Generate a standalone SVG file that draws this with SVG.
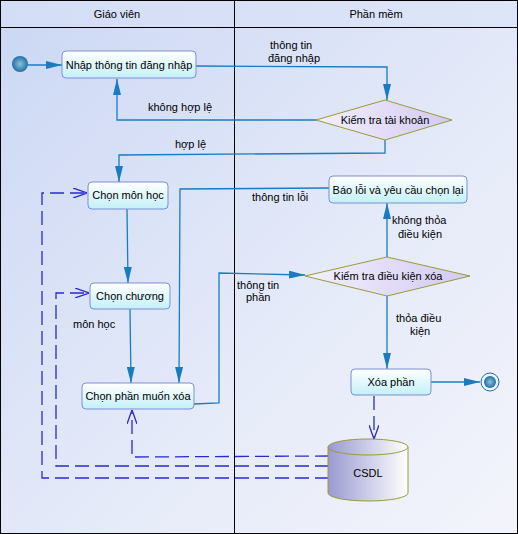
<svg xmlns="http://www.w3.org/2000/svg" width="518" height="534" viewBox="0 0 518 534">
<defs>
<linearGradient id="bg" x1="0" y1="0" x2="1" y2="1">
<stop offset="0" stop-color="#cbd7f4"/><stop offset="0.6" stop-color="#e6ebf9"/><stop offset="1" stop-color="#f3f4fb"/>
</linearGradient>
<linearGradient id="hdr" x1="0" y1="0" x2="1" y2="0">
<stop offset="0" stop-color="#d3ddf5"/><stop offset="1" stop-color="#dde5f8"/>
</linearGradient>
<linearGradient id="box" x1="0" y1="0" x2="0" y2="1">
<stop offset="0" stop-color="#ffffff"/><stop offset="1" stop-color="#c4f0f8"/>
</linearGradient>
<linearGradient id="dia" x1="0" y1="0" x2="1" y2="0">
<stop offset="0" stop-color="#f3f0fd"/><stop offset="1" stop-color="#d2caf2"/>
</linearGradient>
<linearGradient id="cyl" x1="0" y1="0" x2="1" y2="0">
<stop offset="0" stop-color="#9a9ad2"/><stop offset="1" stop-color="#ffffff"/>
</linearGradient>
<radialGradient id="dot" cx="0.5" cy="0.5" r="0.5">
<stop offset="0" stop-color="#8fc3d9"/><stop offset="1" stop-color="#1f6fa6"/>
</radialGradient>
<marker id="a" viewBox="0 0 16 8" refX="16" refY="4" markerWidth="16" markerHeight="8" markerUnits="userSpaceOnUse" orient="auto">
<path d="M0,0 L16,4 L0,8 Z" fill="#1a7cc0"/>
</marker>
<marker id="o" viewBox="0 0 14 10" refX="14" refY="5" markerWidth="14" markerHeight="10" markerUnits="userSpaceOnUse" orient="auto">
<path d="M0,0 L14,5 L0,10" fill="none" stroke="#2a2ad0" stroke-width="1.3"/>
</marker>
</defs>
<style>
text{font-family:"Liberation Sans",Arial,sans-serif;font-size:11px;fill:#000;}
.c{text-anchor:middle;}
.b{fill:url(#box);stroke:#7c8fd6;stroke-width:1;}
.d{fill:url(#dia);stroke:#9a9a3c;stroke-width:1;}
.f{fill:none;stroke:#1a7cc0;stroke-width:1.3;}
.g{fill:none;stroke:#2a2ad0;stroke-width:1.3;stroke-dasharray:14,6;}
</style>
<rect x="0.5" y="0.5" width="517" height="533" fill="url(#bg)" stroke="#000"/>
<rect x="1" y="1" width="516" height="26" fill="url(#hdr)"/>
<line x1="0" y1="27.5" x2="518" y2="27.5" stroke="#000"/>
<line x1="234.5" y1="0" x2="234.5" y2="534" stroke="#000"/>
<text class="c" x="117" y="18">Giáo viên</text>
<text class="c" x="376" y="18">Phần mềm</text>

<g id="connectors">
<line class="f" x1="28" y1="65" x2="62" y2="65" marker-end="url(#a)"/>
<polyline class="f" points="196,66 387,67 387,100" marker-end="url(#a)"/>
<polyline class="f" points="316,120 117,120 117,79" marker-end="url(#a)"/>
<polyline class="f" points="385,140 385,153 119,155 119,182" marker-end="url(#a)"/>
<line class="f" x1="127" y1="209" x2="128" y2="283" marker-end="url(#a)"/>
<line class="f" x1="130" y1="309" x2="131" y2="383" marker-end="url(#a)"/>
<polyline class="f" points="329,188 180,189 179,383" marker-end="url(#a)"/>
<polyline class="f" points="194,404 219,403 219,273 305,275" marker-end="url(#a)"/>
<line class="f" x1="387" y1="257" x2="387" y2="203" marker-end="url(#a)"/>
<line class="f" x1="387" y1="296" x2="387" y2="369" marker-end="url(#a)"/>
<line class="f" x1="431" y1="382" x2="480" y2="382" marker-end="url(#a)"/>
<line class="g" x1="374" y1="396" x2="374" y2="439" marker-end="url(#o)"/>
<polyline class="g" points="329,456 132,457 132,410" marker-end="url(#o)"/>
<polyline class="g" points="329,466 56,466 56,293 89,293" marker-end="url(#o)"/>
<polyline class="g" points="329,478 42,478 42,193 87,193" marker-end="url(#o)"/>
<text x="270" y="49">thông tin</text>
<text x="268" y="62">đăng nhập</text>
<text x="148" y="111">không hợp lệ</text>
<text x="175" y="148">hợp lệ</text>
<text x="252" y="201">thông tin lỗi</text>
<text x="392" y="224">không thỏa</text>
<text x="398" y="238">điều kiện</text>
<text x="237" y="289">thông tin</text>
<text x="246" y="301">phần</text>
<text x="396" y="322">thỏa điều</text>
<text x="410" y="335">kiện</text>
<text x="73" y="328">môn học</text>
</g>

<g id="start"><circle cx="20" cy="64" r="8" fill="url(#dot)"/></g>
<g id="n1"><rect class="b" x="62" y="51" width="134" height="27" rx="4"/><text class="c" x="129" y="69">Nhập thông tin đăng nhập</text></g>
<g id="n2"><polygon class="d" points="316,120 385,100 452,120 385,140"/><text class="c" x="385" y="124">Kiểm tra tài khoản</text></g>
<g id="n3"><rect class="b" x="88" y="182" width="80" height="27" rx="4"/><text class="c" x="128" y="199">Chọn môn học</text></g>
<g id="n4"><rect class="b" x="90" y="283" width="80" height="26" rx="4"/><text class="c" x="130" y="300">Chọn chương</text></g>
<g id="n5"><rect class="b" x="82" y="383" width="112" height="26" rx="4"/><text class="c" x="138" y="400">Chọn phần muốn xóa</text></g>
<g id="n6"><rect class="b" x="329" y="176" width="138" height="27" rx="4"/><text class="c" x="398" y="194">Báo lỗi và yêu cầu chọn lại</text></g>
<g id="n7"><polygon class="d" points="305,276 387,257 470,276 387,296"/><text class="c" x="388" y="280">Kiểm tra điều kiện xóa</text></g>
<g id="n8"><rect class="b" x="351" y="369" width="80" height="26" rx="4"/><text class="c" x="391" y="386">Xóa phần</text></g>
<g id="end"><circle cx="490" cy="382" r="9" fill="#f3f5fc" stroke="#1f6fa6" stroke-width="1"/><circle cx="490" cy="382" r="6" fill="url(#dot)"/></g>
<g id="db">
<path d="M328,447 L328,493 A40,8 0 0 0 408,493 L408,447" fill="url(#cyl)" stroke="#9a9a3c"/>
<ellipse cx="368" cy="447" rx="40" ry="8" fill="url(#cyl)" stroke="#9a9a3c"/>
<text class="c" x="368" y="477">CSDL</text>
</g>
</svg>
